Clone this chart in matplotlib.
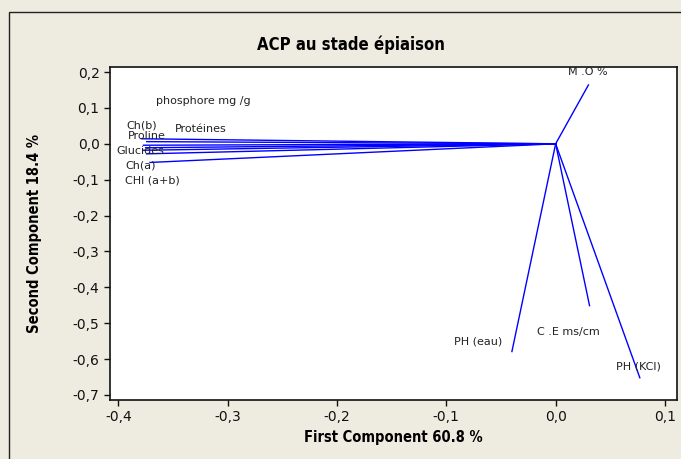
import matplotlib
matplotlib.use("Agg")
import matplotlib.pyplot as plt
from matplotlib.ticker import FuncFormatter, MultipleLocator
from matplotlib.patches import Rectangle

# Loadings (first component, second component)
variables = ["phosphore mg /g", "Ch(b)", "Proline", "Protéines", "Glucides",
             "Ch(a)", "CHl (a+b)", "M .O %", "PH (eau)", "C .E ms/cm", "PH (KCl)"]
pc1 = [-0.377, -0.379, -0.374, -0.375, -0.377, -0.374, -0.371, 0.030, -0.040, 0.031, 0.077]
pc2 = [-0.004, 0.014, 0.006, -0.011, -0.018, -0.028, -0.052, 0.164, -0.579, -0.451, -0.652]

# Label anchor positions (data units)
label_x = [-0.322, -0.379, -0.374, -0.325, -0.380, -0.380, -0.369, 0.029, -0.071, 0.012, 0.076]
label_y = [0.118, 0.050, 0.022, 0.042, -0.019, -0.061, -0.103, 0.201, -0.552, -0.524, -0.621]

title = "ACP au stade épiaison"
xlabel = "First Component 60.8 %"
ylabel = "Second Component 18.4 %"

bg = "#EEEBE1"
fig = plt.figure(figsize=(6.81, 4.59), dpi=100)
fig.patch.set_facecolor(bg)

# outer frame (left and top edges visible)
fig.patches.append(Rectangle((9 / 681, -0.1), 1.2, 1 - 12 / 459 + 0.1,
                             transform=fig.transFigure, fill=False,
                             edgecolor="#222222", linewidth=1.0))

ax = fig.add_axes([110 / 681, 1 - 400 / 459, (677 - 110) / 681, (400 - 67) / 459])
ax.set_facecolor("white")

for x, y in zip(pc1, pc2):
    ax.plot([0, x], [0, y], color="#0000FF", linewidth=1.0)

for name, lx, ly in zip(variables, label_x, label_y):
    ax.text(lx, ly, name, ha="center", va="center", fontsize=8, color="#222222")

ax.set_xlim(-0.4076, 0.111)
ax.set_ylim(-0.714, 0.214)
ax.xaxis.set_major_locator(MultipleLocator(0.1))
ax.yaxis.set_major_locator(MultipleLocator(0.1))
fmt = FuncFormatter(lambda v, p: f"{v:.1f}".replace(".", ",").replace("-0,0", "0,0"))
ax.xaxis.set_major_formatter(fmt)
ax.yaxis.set_major_formatter(fmt)
ax.tick_params(direction="out", length=4, width=1, labelsize=10, colors="#111111")
for s in ax.spines.values():
    s.set_linewidth(1.2)
    s.set_color("#111111")

ax.set_xlabel(xlabel, fontsize=10.5, fontweight="bold", fontstretch="condensed", labelpad=4)
ax.set_ylabel(ylabel, fontsize=10.5, fontweight="bold", fontstretch="condensed", labelpad=22)
fig.text(351 / 681, 1 - 45 / 459, title, ha="center", va="center",
         fontsize=12, fontweight="bold", fontstretch="condensed")

fig.savefig("out.png", dpi=100, facecolor=bg)
